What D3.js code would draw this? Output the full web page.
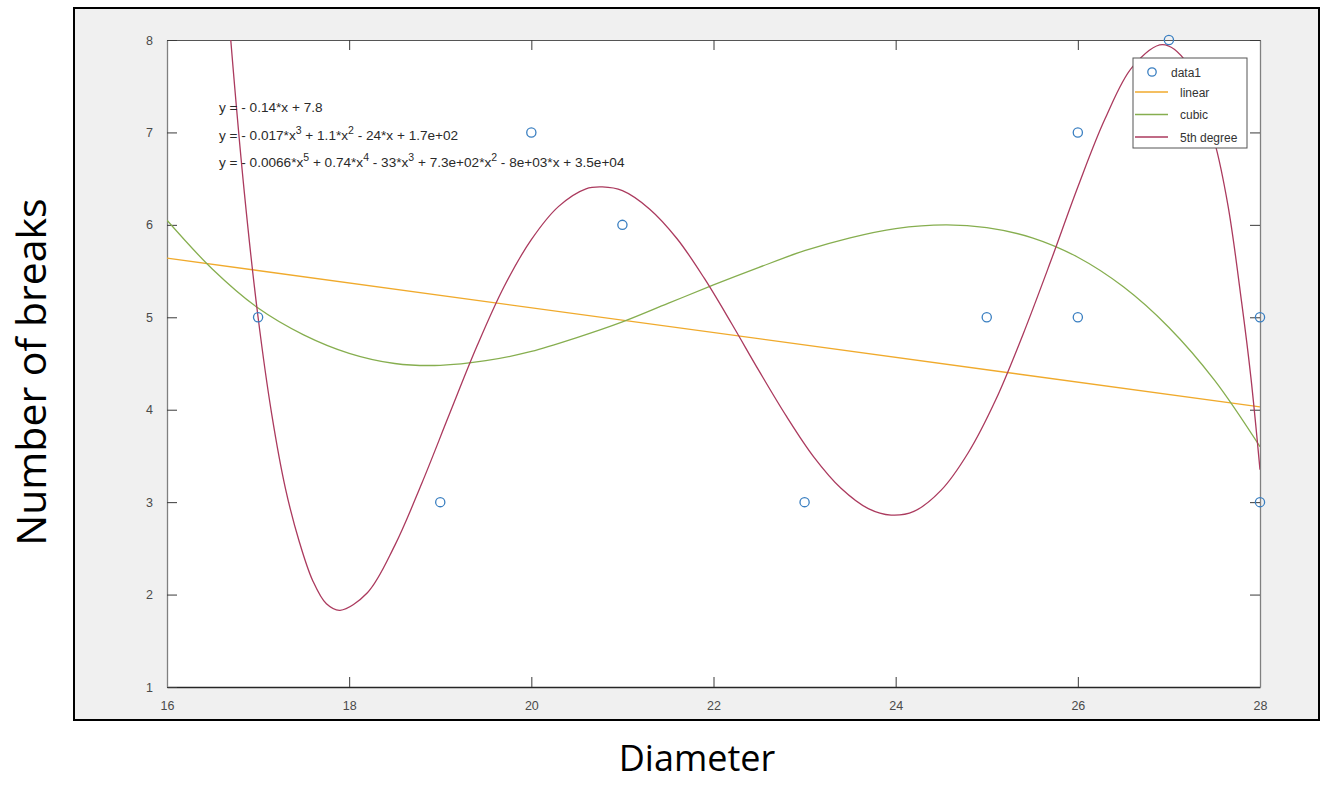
<!DOCTYPE html>
<html><head><meta charset="utf-8">
<script src="https://cdn.jsdelivr.net/npm/d3@7"></script>
<style>body{margin:0;background:#fff}svg{display:block}</style>
</head><body>
<svg id="c" width="1322" height="785"></svg>
<script>
// ---- data ----
const xTicks = [16, 18, 20, 22, 24, 26, 28];
const yTicks = [1, 2, 3, 4, 5, 6, 7, 8];
const dataX = [17, 19, 20, 21, 23, 25, 26, 26, 27, 28, 28];
const dataY = [5, 3, 7, 6, 3, 5, 7, 5, 8, 5, 3];
const linearX = [16, 28];
const linearY = [5.64, 4.03];
const cubicX = [16, 16.5, 17, 17.5, 18, 18.5, 19, 19.5, 20, 20.5, 21, 21.5, 22, 22.5, 23, 23.5, 24, 24.55, 25, 25.5, 26, 26.5, 27, 27.5, 28];
const cubicY = [6.05, 5.52, 5.10, 4.81, 4.61, 4.50, 4.48, 4.53, 4.63, 4.78, 4.95, 5.15, 5.35, 5.54, 5.72, 5.86, 5.96, 6.0, 5.97, 5.86, 5.65, 5.33, 4.89, 4.32, 3.60];
const quinticX = [16.6, 16.7, 16.85, 17.0, 17.15, 17.3, 17.45, 17.6, 17.75, 17.9, 18.2, 18.5, 18.8, 19.1, 19.4, 19.7, 20.0, 20.3, 20.6, 20.78, 21.0, 21.3, 21.6, 21.9, 22.2, 22.5, 22.8, 23.1, 23.4, 23.7, 23.95, 24.2, 24.5, 24.8, 25.1, 25.4, 25.7, 26.0, 26.3, 26.6, 26.93, 27.2, 27.5, 27.65, 27.8, 27.9, 28.0];
const quinticY = [9.3, 8.0, 6.34, 5.0, 3.95, 3.15, 2.58, 2.15, 1.9, 1.83, 2.02, 2.53, 3.21, 3.95, 4.68, 5.33, 5.84, 6.20, 6.39, 6.41, 6.37, 6.17, 5.85, 5.42, 4.93, 4.42, 3.93, 3.49, 3.15, 2.93, 2.86, 2.90, 3.13, 3.54, 4.11, 4.82, 5.60, 6.41, 7.15, 7.71, 7.95, 7.75, 6.9, 6.2, 5.15, 4.35, 3.35];
const equations = [
  "y = - 0.14*x + 7.8",
  "y = - 0.017*x^3 + 1.1*x^2 - 24*x + 1.7e+02",
  "y = - 0.0066*x^5 + 0.74*x^4 - 33*x^3 + 7.3e+02*x^2 - 8e+03*x + 3.5e+04"
];
const legendLabels = ["data1", "linear", "cubic", "5th degree"];
const seriesColors = ["#3a7fc1", "#f0aa2c", "#86ae4f", "#ab3a5e"];
const xTitle = "Diameter";
const yTitle = "Number of breaks";

// ---- layout ----
const svg = d3.select("#c");
const L = 167, R = 1260, T = 40, B = 687;
const x = d3.scaleLinear().domain([16, 28]).range([L, R]);
const y = d3.scaleLinear().domain([1, 8]).range([B, T]);

svg.append("rect").attr("x", 74).attr("y", 8).attr("width", 1245).attr("height", 712)
  .attr("fill", "#f0f0f0").attr("stroke", "#000").attr("stroke-width", 2);
svg.append("rect").attr("x", L).attr("y", T).attr("width", R - L).attr("height", B - T).attr("fill", "#fff");

svg.append("defs").append("clipPath").attr("id", "clip")
  .append("rect").attr("x", L).attr("y", T).attr("width", R - L).attr("height", B - T);

const tickStyle = g => {
  g.selectAll("text").attr("font-family", "'Liberation Sans', Arial, sans-serif").attr("font-size", 12.5).attr("fill", "#4a4a4a");
  g.selectAll("line").attr("stroke", "#3a3a3a");
};

svg.append("g").attr("transform", `translate(0,${B})`)
  .call(d3.axisBottom(x).tickValues(xTicks).tickSizeInner(-10).tickSizeOuter(0).tickPadding(14).tickFormat(d3.format("d")))
  .call(g => g.select(".domain").attr("stroke", "#262626").attr("stroke-width", 1.5))
  .call(tickStyle);
svg.append("g").attr("transform", `translate(0,${T})`)
  .call(d3.axisTop(x).tickValues(xTicks).tickSizeInner(-10).tickSizeOuter(0).tickFormat(""))
  .call(g => g.select(".domain").attr("stroke", "#555"))
  .call(tickStyle);
svg.append("g").attr("transform", `translate(${L},0)`)
  .call(d3.axisLeft(y).tickValues(yTicks).tickSizeInner(-10).tickSizeOuter(0).tickPadding(14).tickFormat(d3.format("d")))
  .call(g => g.select(".domain").attr("stroke", "#808080").attr("stroke-width", 1.3))
  .call(tickStyle);
svg.append("g").attr("transform", `translate(${R},0)`)
  .call(d3.axisRight(y).tickValues(yTicks).tickSizeInner(-10).tickSizeOuter(0).tickFormat(""))
  .call(g => g.select(".domain").attr("stroke", "#808080").attr("stroke-width", 1.3))
  .call(tickStyle);

const lineGen = d3.line().x(d => x(d[0])).y(d => y(d[1])).curve(d3.curveCatmullRom.alpha(0.5));
const plot = svg.append("g").attr("clip-path", "url(#clip)");
const series = [
  { xs: linearX, ys: linearY, c: seriesColors[1] },
  { xs: cubicX, ys: cubicY, c: seriesColors[2] },
  { xs: quinticX, ys: quinticY, c: seriesColors[3] }
];
series.forEach(s => {
  plot.append("path").datum(d3.zip(s.xs, s.ys))
    .attr("d", lineGen).attr("fill", "none").attr("stroke", s.c).attr("stroke-width", 1.3);
});

svg.append("g").selectAll("circle").data(d3.zip(dataX, dataY)).join("circle")
  .attr("cx", d => x(d[0])).attr("cy", d => y(d[1])).attr("r", 4.6)
  .attr("fill", "none").attr("stroke", seriesColors[0]).attr("stroke-width", 1.3);

const eqG = svg.append("g").attr("font-family", "'Liberation Sans', Arial, sans-serif").attr("font-size", 13.6).attr("fill", "#2a2a2a");
equations.forEach((eq, i) => {
  const t = eqG.append("text").attr("x", 219).attr("y", 112 + i * 27.5);
  const parts = eq.split(/\^(\d)/);
  parts.forEach((p, j) => {
    if (j % 2 === 1) {
      t.append("tspan").attr("dy", -6).attr("font-size", 10.5).text(p);
    } else {
      const ts = t.append("tspan").text(p);
      if (j > 0) ts.attr("dy", 6);
    }
  });
});

const lg = svg.append("g");
lg.append("rect").attr("x", 1133).attr("y", 58).attr("width", 114).attr("height", 90)
  .attr("fill", "#fff").attr("stroke", "#555").attr("stroke-width", 1);
const lgFont = "'Liberation Sans', Arial, sans-serif";
lg.append("circle").attr("cx", 1152).attr("cy", 72).attr("r", 4.2)
  .attr("fill", "none").attr("stroke", seriesColors[0]).attr("stroke-width", 1.3);
lg.append("text").attr("x", 1171).attr("y", 76.5).attr("font-family", lgFont).attr("font-size", 12).attr("fill", "#333").text(legendLabels[0]);
[1, 2, 3].forEach((k, i) => {
  const yy = 92 + i * 22.5;
  lg.append("line").attr("x1", 1135).attr("x2", 1168).attr("y1", yy).attr("y2", yy)
    .attr("stroke", seriesColors[k]).attr("stroke-width", 1.4);
  lg.append("text").attr("x", 1180).attr("y", yy + 4.5).attr("font-family", lgFont).attr("font-size", 12)
    .attr("fill", "#333").text(legendLabels[k]);
});

svg.append("text").attr("x", 697).attr("y", 771).attr("text-anchor", "middle")
  .attr("font-family", "'Open Sans', sans-serif").attr("font-size", 36).attr("fill", "#000").text(xTitle);
svg.append("text").attr("transform", "translate(46,372) rotate(-90)").attr("text-anchor", "middle")
  .attr("font-family", "'Open Sans', sans-serif").attr("font-size", 41).attr("fill", "#000").text(yTitle);
</script>
</body></html>
